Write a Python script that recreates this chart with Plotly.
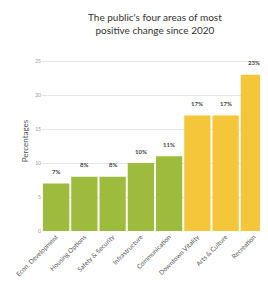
import plotly.graph_objects as go

categories = ["Econ. Development", "Housing Options", "Safety & Security", "Infrastructure",
              "Communication", "Downtown Vitality", "Arts & Culture", "Recreation"]
values = [7, 8, 8, 10, 11, 17, 17, 23]
labels = ["7%", "8%", "8%", "10%", "11%", "17%", "17%", "23%"]
colors = ["#9dbb3c"] * 5 + ["#f5c63a"] * 3
y_ticks = [0, 5, 10, 15, 20, 25]

font = "Lato, 'Open Sans', sans-serif"

fig = go.Figure(go.Bar(x=categories, y=values, marker=dict(color=colors, line=dict(width=0)),
                       hoverinfo="skip"))

for c, v, t in zip(categories, values, labels):
    fig.add_annotation(x=c, y=v, text=f"<b>{t}</b>", showarrow=False, yshift=12,
                       font=dict(size=6, color="#444", family=font))

fig.add_annotation(x=0.5, xref="paper", y=1.153, yref="paper", yanchor="middle",
                   text="The public's four areas of most<br>positive change since 2020",
                   showarrow=False, font=dict(size=10, color="#333", family=font))

# page body has an 8px margin, so the figure is sized to fit the window from (8, 8)
fig.update_layout(
    width=260, height=287,
    margin=dict(l=34, r=0, t=43, b=64, autoexpand=False),
    paper_bgcolor="white", plot_bgcolor="white",
    bargap=0.07,
    showlegend=False,
    xaxis=dict(tickangle=-45, tickfont=dict(size=6.5, color="#555", family=font),
               showgrid=False, zeroline=False, showline=False, ticks="",
               range=[-0.5, 7.5], automargin=False),
    yaxis=dict(range=[0, 26.5], tickvals=y_ticks, ticktext=[str(v) for v in y_ticks],
               tickfont=dict(size=5, color="#999", family=font),
               showgrid=True, gridcolor="#e6e6e6", gridwidth=1, zeroline=False,
               title=dict(text="Percentages", font=dict(size=8, color="#555", family=font),
                          standoff=5),
               ticks="", automargin=False),
)

fig.write_html("out.html")
